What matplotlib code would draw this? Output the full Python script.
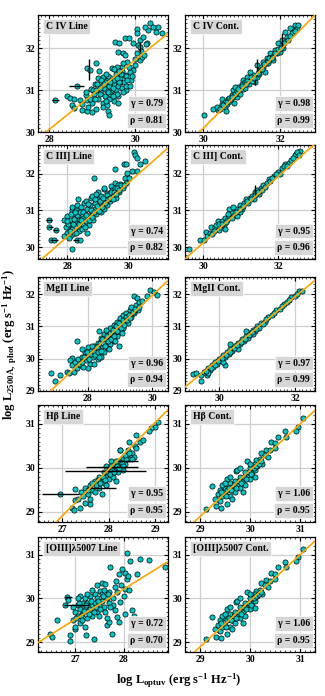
import matplotlib
matplotlib.use('Agg')
import matplotlib.pyplot as plt
from matplotlib.ticker import MultipleLocator

plt.rcParams['font.family'] = ['Liberation Serif', 'DejaVu Serif']
plt.rcParams['font.weight'] = 'bold'
plt.rcParams['mathtext.fontset'] = 'custom'
plt.rcParams['mathtext.rm'] = 'Liberation Serif:bold'
plt.rcParams['mathtext.it'] = 'Liberation Serif:bold'
plt.rcParams['mathtext.bf'] = 'Liberation Serif:bold'

# ---------------- data ----------------
titles = ['C IV Line', 'C IV Cont.', 'C III] Line', 'C III] Cont.', 'MgII Line', 'MgII Cont.',
          'H\u03b2 Line', 'H\u03b2 Cont.', '[OIII]\u03bb5007 Line', '[OIII]\u03bb5007 Cont.']
gammas = ['0.79', '0.98', '0.74', '0.95', '0.96', '0.97', '0.95', '1.06', '0.72', '1.06']
rhos = ['0.81', '0.99', '0.82', '0.96', '0.94', '0.99', '0.95', '0.95', '0.70', '0.95']
fit_slope = [0.831, 0.933, 0.736, 0.903, 0.932, 0.963, 1.06, 1.05, 0.686, 1.05]
fit_icpt = [6.79, 2.094, 9.678, 3.024, 3.994, 1.10, 0.287, -1.555, 11.001, -1.555]

civ_line_pts = [(28.14,30.76),(28.41,30.86),(28.49,30.82),(28.58,30.78),(28.53,30.64),(28.58,30.58),
    (28.72,30.76),(28.76,30.66),(28.64,31.1),(28.89,31.52),(28.95,31.48),(28.86,30.88),(28.89,30.76),
    (28.76,30.52),(28.89,30.5),(28.99,30.48),(29.1,30.56),(29.1,31.64),(29.17,31.46),(29.07,31.16),
    (29.36,30.5),(29.4,30.4),(29.53,32.16),(29.63,32.14),(29.61,31.92),(29.77,32.24),(29.86,32.24),
    (29.96,32.12),(29.71,31.88),(29.77,31.84),(30.04,32.46),(30.05,32.36),(30.12,32.2),(30.19,32.28),
    (30.08,32.08),(30.12,32.04),(30.27,32.12),(30.3,32.44),(30.35,32.6),(30.43,32.52),(30.5,32.4),
    (30.62,32.36),(30.54,32.52),(30.23,32.52),(30.12,31.72),(30.16,31.8),(30.0,31.6),(29.96,31.48),
    (29.88,31.44),(29.81,31.68),(29.69,31.56),(29.65,31.2),(29.77,31.36),(29.57,31.56),(29.46,31.52),
    (29.26,31.32),(29.34,31.24),(28.98,31.04),(29.03,31.0),
    (29.05,30.9),(29.1,31.0),(29.15,30.8),(29.2,31.1),(29.2,30.95),(29.25,30.7),(29.3,31.2),(29.3,30.85),
    (29.35,31.0),(29.4,31.1),(29.4,30.8),(29.45,31.3),(29.45,30.95),(29.5,31.15),(29.5,30.75),(29.55,31.0),
    (29.55,31.4),(29.6,31.1),(29.6,30.85),(29.65,31.3),(29.7,31.05),(29.7,31.45),(29.75,31.2),(29.8,31.35),
    (29.85,31.55),(29.9,31.25),(29.15,31.3),(29.0,30.7),(28.95,30.8),(29.25,30.6),(29.35,30.65),(29.6,30.7),
    (29.8,31.0),(30.0,31.75),(30.05,31.9),(30.15,31.95),(30.25,32.1),(30.2,31.85),
    (29.12,31.15),(29.18,30.9),(29.22,31.25),(29.28,31.05),(29.32,30.75),(29.38,31.35),(29.42,30.9),
    (29.48,31.05),(29.52,31.25),(29.58,30.9),(29.62,31.2),(29.68,31.4),(29.72,30.95),(29.78,31.1),
    (29.82,31.25),(29.88,31.1),(29.92,31.35),(29.58,31.3),(29.48,30.85),(29.38,30.95),(29.28,31.15),
    (29.18,31.05),(29.08,30.8),(29.52,31.5),(29.62,31.45),(29.72,31.65),(29.42,31.2),(29.32,31.4),
    (28.85,30.95),(28.9,30.6)]
civ_line_err = [(28.14,30.76,0.08,0),(28.64,31.1,0.18,0),(28.93,31.5,0,0.25),(30.12,32.04,0,0.12)]

civ_cont_pts = [(30.03,30.4),(30.26,30.56),(30.39,30.52),(30.48,30.78),(30.57,30.6),(30.61,30.68),
    (32.0,31.92),(32.09,32.0),(32.04,32.2),(32.13,32.4),(32.35,32.44),(32.39,32.56),(32.26,32.48),
    (31.96,32.12),(31.87,31.96),(31.74,31.88),(31.65,31.76),(31.57,31.68),(31.39,31.6),(31.35,31.2),
    (31.3,31.36),(31.22,31.44),(31.13,31.32),(31.04,31.24),(31.0,31.16),(30.91,31.08),(30.83,30.96),
    (30.74,30.88),(30.65,30.8),(30.57,30.72),(30.87,30.84),(30.78,31.0),(30.96,31.0),(31.09,31.12),
    (31.17,31.2),(31.26,31.28),(31.48,31.48),(31.57,31.56),(31.61,31.44),(31.78,31.8),(31.83,31.72),
    (31.91,31.88),(32.04,32.08),(32.17,32.28),(30.48,30.68),(30.35,30.6),(30.83,31.08),(31.04,31.04),
    (31.39,31.32),(31.65,31.64),(32.3,32.36),(32.43,32.48),(30.7,30.75),(30.95,30.9),(31.1,31.05),
    (31.2,31.15),(31.45,31.4),(31.7,31.65),(30.6,30.5),(30.8,30.7),(31.5,31.55),
    (30.52,30.64),(30.62,30.72),(30.68,30.82),(30.72,30.78),(30.82,30.92),(30.88,30.98),(30.92,31.02),
    (31.02,31.1),(31.08,31.2),(31.15,31.22),(31.24,31.32),(31.28,31.22),(31.33,31.3),(31.42,31.42),
    (31.52,31.5),(31.58,31.62),(31.68,31.7),(31.72,31.78),(31.8,31.78),(31.88,31.9),(31.94,31.98),
    (32.02,32.02),(32.1,32.12),(32.2,32.2),(32.25,32.3),(32.38,32.42),(32.46,32.55),(30.45,30.55),
    (30.76,30.84),(31.12,31.16)]
civ_cont_err = [(31.39,31.6,0,0.15),(32.04,32.2,0,0.18),(31.35,31.2,0,0.08)]

ciii_line_pts = [(27.41,30.74),(27.41,30.54),(27.62,30.47),(27.46,30.21),(27.57,30.21),(27.89,30.74),
    (28.16,29.96),(28.32,30.21),(28.43,30.21),(28.86,31.89),(29.57,32.12),(29.84,32.26),(29.92,32.26),
    (30.16,32.58),(30.22,32.5),(30.27,32.44),(30.54,32.35),(30.38,32.26),(29.95,32.03),(30.11,32.07),
    (30.27,32.07),(29.89,31.89),(30.0,31.89),(29.57,31.75),(29.41,31.66),(29.73,31.71),(29.19,31.57),
    (29.3,31.48),(28.97,31.34),(28.76,31.34),(28.54,31.2),(28.32,31.16),(28.16,31.02),
    (28.0,30.4),(28.05,30.6),(28.1,30.75),(28.15,30.5),(28.2,30.9),(28.2,30.35),(28.25,30.7),(28.3,30.55),
    (28.3,31.0),(28.35,30.85),(28.4,30.45),(28.4,30.65),(28.45,31.1),(28.5,30.8),(28.5,30.6),(28.55,30.95),
    (28.6,31.25),(28.6,30.7),(28.65,31.05),(28.7,30.85),(28.7,30.6),(28.75,31.15),(28.8,30.95),(28.8,31.4),
    (28.85,30.75),(28.9,31.2),(28.9,31.05),(28.95,30.9),(29.0,31.3),(29.0,31.5),(29.05,31.1),(29.1,30.95),
    (29.1,31.4),(29.15,31.2),(29.2,31.05),(29.2,31.6),(29.25,31.3),(29.3,31.15),(29.35,31.45),(29.4,31.25),
    (29.45,31.55),(29.5,31.4),(29.55,31.6),(29.6,31.35),(29.65,31.7),(29.7,31.5),(29.8,31.6),(29.9,31.75),
    (28.1,30.3),(27.95,30.55),(27.9,30.3),(28.0,30.85),(28.15,31.1),(28.35,31.3),
    (28.02,30.62),(28.08,30.45),(28.12,30.9),(28.18,30.62),(28.22,30.78),(28.28,30.4),(28.32,30.88),
    (28.38,30.62),(28.42,30.95),(28.48,30.5),(28.52,30.95),(28.58,30.55),(28.62,30.88),(28.68,31.18),
    (28.72,30.75),(28.78,31.0),(28.82,30.82),(28.88,30.95),(28.92,31.32),(28.98,31.12),(29.02,30.98),
    (29.08,31.25),(29.12,31.1),(29.18,31.35),(29.22,31.2),(29.28,31.42),(29.32,31.3),(29.38,31.35),
    (29.42,31.5),(29.48,31.3),(29.52,31.5),(29.58,31.45),(29.62,31.6),(29.68,31.55),(29.75,31.7),
    (29.85,31.7),(28.25,30.95),(28.45,30.75),(28.65,30.4),(28.95,31.45),(27.98,30.7),(28.05,30.25)]
ciii_line_err = [(27.41,30.74,0.1,0),(27.57,30.21,0.12,0),(27.46,30.54,0.08,0),(28.3,30.21,0.1,0),
    (27.62,30.47,0.08,0)]

ciii_cont_pts = [(29.63,29.96),(29.91,30.19),(30.04,30.21),(30.09,30.42),(30.22,30.56),(30.31,30.54),
    (30.4,30.7),(30.44,30.47),(32.49,32.53),(32.58,32.62),
    (30.1,30.3),(30.2,30.4),(30.3,30.45),(30.35,30.6),(30.45,30.55),(30.5,30.7),(30.55,30.6),(30.6,30.8),
    (30.65,30.75),(30.7,30.85),(30.75,30.95),(30.8,30.85),(30.85,31.0),(30.9,31.05),(30.95,30.95),
    (31.0,31.15),(31.05,31.05),(31.1,31.2),(31.15,31.3),(31.2,31.2),(31.25,31.35),(31.3,31.4),(31.35,31.3),
    (31.4,31.5),(31.45,31.55),(31.5,31.45),(31.55,31.6),(31.6,31.7),(31.7,31.75),(31.75,31.85),(31.8,31.8),
    (31.9,31.95),(32.0,32.05),(32.05,32.0),(32.1,32.15),(32.2,32.25),(32.3,32.3),(32.35,32.38),(32.45,32.5),
    (32.5,32.6),(32.55,32.5),(30.7,31.05),(30.8,31.1),(31.0,30.95),(30.9,30.85),(30.6,30.5),
    (30.25,30.35),(30.42,30.62),(30.52,30.62),(30.62,30.68),(30.68,30.9),(30.78,30.8),(30.88,30.95),
    (30.98,31.05),(31.08,31.12),(31.18,31.25),(31.28,31.3),(31.38,31.42),(31.48,31.5),(31.58,31.55),
    (31.65,31.65),(31.85,31.88),(31.95,31.98),(32.15,32.2),(32.25,32.2),(32.4,32.42)]
ciii_cont_err = [(31.4,31.55,0,0.15)]

mgii_line_pts = [(26.84,29.56),(26.98,29.32),(27.14,29.5),(27.34,29.6),(27.66,30.54),(27.5,30.02),
    (29.43,31.93),(29.53,31.88),(29.95,32.13),(30.05,32.08),(30.16,31.98),(29.84,31.93),(28.96,30.38),
    (28.33,30.85),
    (27.4,29.55),(27.5,29.8),(27.55,29.6),(27.6,29.9),(27.65,29.7),(27.7,30.0),(27.75,29.8),(27.8,30.05),
    (27.85,29.75),(27.9,30.2),(27.95,29.95),(28.0,30.1),(28.0,30.35),(28.05,29.85),(28.1,30.25),(28.15,30.05),
    (28.2,30.4),(28.25,30.2),(28.3,30.0),(28.3,30.5),(28.35,30.3),(28.4,30.65),(28.45,30.4),(28.5,30.2),
    (28.5,30.75),(28.55,30.55),(28.6,30.35),(28.6,30.85),(28.65,30.65),(28.7,30.45),(28.7,30.95),(28.75,30.75),
    (28.8,31.05),(28.8,30.55),(28.85,30.85),(28.9,31.15),(28.9,30.7),(28.95,31.0),(29.0,31.25),(29.0,30.85),
    (29.05,31.1),(29.1,31.35),(29.1,30.95),(29.15,31.2),(29.2,31.4),(29.25,31.1),(29.3,31.5),(29.35,31.3),
    (29.4,31.55),(29.45,31.4),(29.5,31.65),(29.55,31.5),(29.6,31.75),(29.7,31.8),(29.35,31.6),(28.2,29.85),
    (28.4,30.05),(27.8,30.3),(28.0,29.7),(27.45,29.95),
    (27.72,29.85),(27.82,29.9),(27.88,30.05),(27.98,30.2),(28.02,30.0),(28.08,30.15),(28.12,30.4),
    (28.18,30.2),(28.22,30.1),(28.28,30.35),(28.32,30.2),(28.38,30.5),(28.42,30.25),(28.48,30.5),
    (28.52,30.4),(28.58,30.7),(28.62,30.55),(28.68,30.8),(28.72,30.6),(28.78,30.9),(28.82,30.7),
    (28.88,31.0),(28.92,30.85),(28.98,31.1),(29.02,30.95),(29.08,31.2),(29.12,31.05),(29.18,31.3),
    (29.22,31.2),(29.28,31.35),(29.32,31.25),(29.42,31.45),(29.48,31.55),(29.58,31.6),(28.55,30.9),
    (28.45,30.6),(28.35,30.05),(28.65,30.3),(28.85,30.55),(29.05,30.8)]
mgii_line_err = []

mgii_cont_pts = [(29.31,29.53),(29.38,29.56),(29.51,29.3),(29.53,29.5),(29.67,29.5),(30.15,29.81),
    (29.6,29.6),(29.7,29.7),(29.75,29.65),(29.8,29.8),(29.85,29.75),(29.9,29.9),(29.95,29.85),(30.0,30.0),
    (30.05,29.95),(30.1,30.1),(30.15,30.05),(30.2,30.2),(30.25,30.15),(30.3,30.3),(30.35,30.25),(30.4,30.4),
    (30.45,30.35),(30.5,30.5),(30.55,30.45),(30.6,30.6),(30.65,30.55),(30.7,30.7),(30.75,30.65),(30.8,30.8),
    (30.85,30.75),(30.9,30.9),(30.95,30.85),(31.0,31.0),(31.05,30.95),(31.1,31.1),(31.2,31.15),(31.3,31.3),
    (31.4,31.35),(31.5,31.5),(31.6,31.55),(31.7,31.7),(31.8,31.75),(31.9,31.9),(32.0,31.95),(32.1,32.1),
    (32.2,32.1),(30.1,29.9),(30.3,30.45),(30.5,30.3),(30.7,30.85),(30.9,30.75),(29.7,29.55),
    (29.65,29.62),(29.78,29.72),(29.88,29.82),(29.98,29.92),(30.08,30.02),(30.18,30.12),(30.28,30.22),
    (30.38,30.32),(30.48,30.42),(30.58,30.52),(30.68,30.62),(30.78,30.72),(30.88,30.82),(30.98,30.92),
    (31.15,31.08),(31.25,31.22),(31.45,31.42),(31.65,31.62),(31.85,31.82),(32.05,32.0)]
mgii_cont_err = []

hb_line_pts = [(26.96,29.41),(27.21,29.09),(27.25,29.05),(27.28,29.28),(27.39,29.09),(27.6,29.17),
    (27.28,29.51),(29.06,31.05),(28.99,30.92),(28.91,30.9),(28.88,30.85),(28.6,30.75),(28.45,30.6),
    (28.24,30.41),(28.67,30.6),(28.74,30.64),(28.42,30.41),(28.56,30.49),
    (27.35,29.3),(27.4,29.45),(27.45,29.35),(27.5,29.55),(27.55,29.4),(27.6,29.6),(27.65,29.5),(27.7,29.7),
    (27.7,29.45),(27.75,29.6),(27.8,29.8),(27.8,29.55),(27.85,29.7),(27.9,29.9),(27.9,29.65),(27.95,29.8),
    (28.0,30.0),(28.0,29.75),(28.05,29.9),(28.1,30.1),(28.1,29.8),(28.15,30.0),(28.2,30.15),(28.2,29.9),
    (28.25,30.05),(28.3,30.2),(28.35,30.1),(28.4,30.3),(28.45,30.2),(28.5,30.35),(28.55,30.25),(28.6,30.45),
    (27.95,30.05),(28.05,30.15),(28.3,29.95),(28.15,29.7),(27.6,29.3),(27.5,29.2),(28.25,30.4),(27.85,29.4),
    (27.72,29.6),(27.78,29.72),(27.82,29.65),(27.88,29.8),(27.92,29.72),(27.98,29.9),(28.02,29.85),
    (28.08,29.95),(28.12,29.9),(28.18,30.05),(28.22,30.0),(28.28,30.12),(28.32,30.05),(28.38,30.2),
    (28.05,30.05),(27.95,29.6),(28.15,30.15),(28.35,30.3),(28.45,30.35),(28.5,30.2),(27.65,29.65),
    (27.55,29.5)]
hb_line_err = [(26.96,29.41,0.4,0),(27.94,29.92,0.87,0),(28.07,30.02,0.56,0),(27.85,29.54,0.32,0),
    (28.42,30.16,0.21,0)]

cont5100_pts = [(29.13,29.07),(29.25,29.58),(29.33,29.13),(29.43,29.09),(29.53,29.19),(29.37,29.28),
    (31.07,31.13),(30.97,30.94),(30.93,30.85),(30.7,30.83),(30.57,30.71),(30.43,30.58),(30.5,30.56),
    (30.23,30.35),(30.33,30.41),(30.13,30.18),(30.1,29.79),(29.73,29.92),(30.73,30.71),
    (29.3,29.3),(29.35,29.4),(29.4,29.25),(29.4,29.5),(29.45,29.35),(29.5,29.55),(29.5,29.4),(29.55,29.5),
    (29.6,29.65),(29.6,29.35),(29.65,29.5),(29.7,29.7),(29.7,29.45),(29.75,29.6),(29.8,29.8),(29.8,29.55),
    (29.85,29.7),(29.9,29.9),(29.9,29.6),(29.95,29.8),(30.0,30.0),(30.0,29.75),(30.05,29.9),(30.1,30.1),
    (30.1,29.95),(30.15,30.05),(30.2,30.2),(30.25,30.1),(30.3,30.3),(30.35,30.25),(30.4,30.4),(30.5,30.45),
    (29.55,29.75),(29.75,29.95),(29.95,30.15),(29.45,29.6),(29.65,29.3),(29.85,29.45),
    (29.42,29.45),(29.52,29.35),(29.58,29.55),(29.62,29.5),(29.68,29.6),(29.72,29.55),(29.78,29.7),
    (29.82,29.65),(29.88,29.8),(29.92,29.75),(29.98,29.9),(30.02,29.85),(30.08,30.0),(30.12,30.05),
    (30.18,30.1),(30.22,30.15),(29.6,29.8),(29.8,30.0),(30.0,30.1),(29.5,29.65)]
cont5100_err = []

oiii_line_pts = [(26.48,29.18),(26.52,29.13),(26.62,29.5),(26.83,30.03),(26.86,29.97),(26.79,29.84),
    (26.9,29.16),(26.9,29.03),(27.0,29.31),(27.23,29.16),(27.38,29.07),(27.76,29.19),(28.07,31.04),
    (28.14,30.85),(28.34,30.9),(28.52,30.87),(28.86,30.72),(27.72,30.72),(27.9,30.55),(28.03,30.59),
    (27.97,30.66),(28.07,30.44),(28.28,30.55),(28.1,30.52),(28.03,29.65),(28.17,29.73),(28.21,29.61),
    (27.66,29.39),(27.69,29.47),(27.86,29.58),(27.9,29.47),(27.52,30.18),(27.55,30.36),(27.62,30.33),
    (27.83,30.25),(27.86,30.14),(28.0,30.06),(28.03,30.21),(27.79,29.84),(27.83,29.73),(27.93,29.91),
    (26.95,29.5),(27.0,29.7),(27.05,29.6),(27.05,29.85),(27.1,29.75),(27.1,29.45),(27.15,29.9),(27.15,29.65),
    (27.2,29.8),(27.2,30.0),(27.25,29.55),(27.25,29.9),(27.3,29.75),(27.3,30.05),(27.35,29.85),(27.35,29.6),
    (27.4,30.1),(27.4,29.9),(27.45,29.7),(27.45,30.0),(27.5,29.85),(27.5,29.6),(27.55,30.1),(27.55,29.95),
    (27.6,29.8),(27.6,30.2),(27.65,30.0),(27.7,29.9),(27.7,30.15),(27.1,30.05),(27.0,29.35),(27.2,29.35),
    (26.95,29.8),
    (27.02,29.55),(27.08,29.9),(27.12,29.6),(27.18,29.72),(27.22,29.85),(27.28,29.65),(27.32,29.95),
    (27.38,29.7),(27.42,29.8),(27.48,29.95),(27.52,29.75),(27.58,30.05),(27.62,29.7),(27.68,30.1),
    (27.72,29.8),(27.78,30.0),(27.35,30.2),(27.25,30.1),(27.15,29.5),(27.45,30.3),(27.65,29.55),
    (27.85,30.4),(27.95,30.3),(28.12,30.2),(27.05,30.0)]
oiii_line_err = [(27.02,29.84,0.26,0),(26.86,30.03,0.08,0)]

points = [civ_line_pts, civ_cont_pts, ciii_line_pts, ciii_cont_pts, mgii_line_pts, mgii_cont_pts,
          hb_line_pts, cont5100_pts, oiii_line_pts, cont5100_pts]
errs = [civ_line_err, civ_cont_err, ciii_line_err, ciii_cont_err, mgii_line_err, mgii_cont_err,
        hb_line_err, cont5100_err, oiii_line_err, cont5100_err]

xlims = [(27.74, 30.77), (29.53, 32.91), (27.05, 31.28), (29.52, 32.99), (26.44, 30.5), (29.1, 32.53),
         (26.48, 29.28), (28.7, 31.3), (26.23, 28.92), (28.7, 31.3)]
ylims = [(30.0, 32.8), (29.68, 32.78), (29.0, 32.53), (28.77, 31.43), (28.78, 31.4)]
xmajor = [2, 2, 2, 2, 2, 2, 1, 1, 1, 1]

# ---------------- layout ----------------
W, H = 325, 696
fig = plt.figure(figsize=(W / 100, H / 100), dpi=100)
col_lr = [(38, 168), (185, 315)]
row_tb = [(15, 132), (145, 259), (277, 391), (405, 522), (537, 652)]

for i in range(10):
    r, c = divmod(i, 2)
    l, rr = col_lr[c]
    t, b = row_tb[r]
    ax = fig.add_axes([l / W, 1 - b / H, (rr - l) / W, (b - t) / H])
    xs = [p[0] for p in points[i]]
    ys = [p[1] for p in points[i]]
    ax.grid(True, which='major', color='#cfcfcf', lw=0.9, zorder=0)
    ax.scatter(xs, ys, s=14, c='#00c8c8', edgecolors='black', linewidths=0.5, zorder=2)
    for (ex, ey, exe, eye) in errs[i]:
        ax.errorbar([ex], [ey], xerr=[exe] if exe else None, yerr=[eye] if eye else None,
                    fmt='none', ecolor='black', elinewidth=1.0, capsize=0, zorder=3)
    ax.axline((0, fit_icpt[i]), slope=fit_slope[i], color='#FFA500', lw=1.2, zorder=4)
    ax.set_xlim(*xlims[i])
    ax.set_ylim(*ylims[r])
    ax.xaxis.set_major_locator(MultipleLocator(xmajor[i]))
    ax.xaxis.set_minor_locator(MultipleLocator(0.1))
    ax.yaxis.set_major_locator(MultipleLocator(1))
    ax.yaxis.set_minor_locator(MultipleLocator(0.1))
    ax.tick_params(which='both', direction='in', top=True, right=True, labelsize=7, pad=2)
    ax.tick_params(which='major', length=3, width=0.8)
    ax.tick_params(which='minor', length=1.5, width=0.5)
    for lab in ax.get_xticklabels() + ax.get_yticklabels():
        lab.set_fontweight('bold')
    for sp in ax.spines.values():
        sp.set_linewidth(0.9)
    box = dict(boxstyle='square,pad=0.3', fc='#d6d6d6', ec='white', lw=0.5)
    ax.text(0.06, 0.94, titles[i], transform=ax.transAxes, fontsize=7, fontweight='bold',
            ha='left', va='top', bbox=box, zorder=6)
    ax.text(0.96, 0.245, '\u03b3 = ' + gammas[i], transform=ax.transAxes, fontsize=7,
            fontweight='bold', ha='right', va='center', bbox=box, zorder=6)
    ax.text(0.96, 0.10, '\u03c1 = ' + rhos[i], transform=ax.transAxes, fontsize=7,
            fontweight='bold', ha='right', va='center', bbox=box, zorder=6)

fig.text(0.03, 0.505, r'log L$_{2500\mathrm{\AA,\ phot}}$ (erg s$^{-1}$ Hz$^{-1}$)', rotation=90,
         ha='center', va='center', fontsize=9, fontweight='bold')
fig.text(0.55, 0.022, r'log L$_{\mathrm{optuv}}$ (erg s$^{-1}$ Hz$^{-1}$)', ha='center', va='center',
         fontsize=9, fontweight='bold')

fig.savefig('out.png', dpi=100)
